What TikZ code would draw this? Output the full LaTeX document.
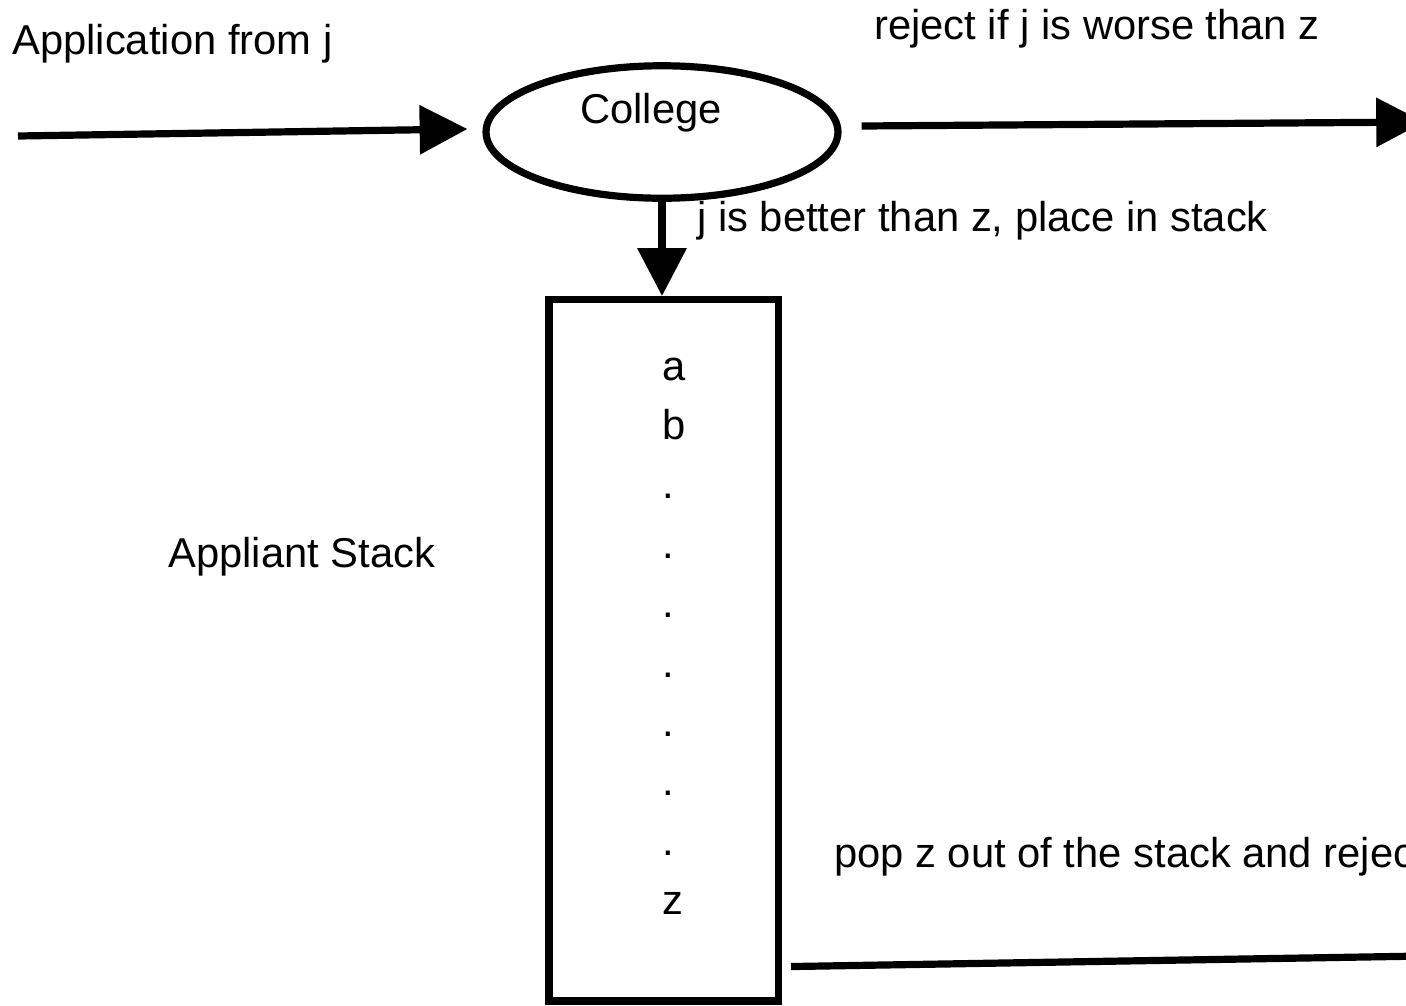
\documentclass[tikz,border=0pt]{standalone}
\usepackage{fontspec}
\setmainfont{Liberation Sans}
\usetikzlibrary{arrows.meta,shapes.geometric}

\tikzset{
	txt/.style={anchor=base west, inner sep=0pt, font=\fontsize{23.75pt}{28pt}\selectfont},
	flow/.style={line width=4.1pt, -{Triangle[length=27.2pt,width=27.2pt]}},
	plainline/.style={line width=4.1pt},
	collegebox/.style={draw, ellipse, line width=4.1pt, inner sep=0pt, minimum width=7.04cm, minimum height=2.65cm},
	stackbox/.style={draw, rectangle, line width=4.1pt, inner sep=0pt, minimum width=4.59cm, minimum height=14.03cm}
}

\begin{document}
\begin{tikzpicture}[x=0.02cm, y=-0.02cm]
	\useasboundingbox (0,0) rectangle (1406,1005);
	\clip (0,0) rectangle (1406,1005);
	% college and the stack of applicants
	\node[collegebox] (college) at (662,132) {};
	\node[txt] (collegename) at (580,123.3) {College};
	\node[stackbox] (stack) at (663.75,650.25) {};
	\node[txt] (stackname) at (168,567) {Appliant Stack};
	\node[txt] (sa) at (662,380) {a};
	\node[txt] (sb) at (662,439.4) {b};
	\node[txt] (sd1) at (662,498.8) {.};
	\node[txt] (sd2) at (662,558.2) {.};
	\node[txt] (sd3) at (662,617.6) {.};
	\node[txt] (sd4) at (662,677) {.};
	\node[txt] (sd5) at (662,736.4) {.};
	\node[txt] (sd6) at (662,795.8) {.};
	\node[txt] (sd7) at (662,855.2) {.};
	\node[txt] (sz) at (662,914.6) {z};
	% labels
	\node[txt] (applytext) at (12,54) {Application from j};
	\node[txt] (rejecttext) at (874,39) {reject if j is worse than z};
	\node[txt] (bettertext) at (697,231) {j is better than z, place in stack};
	\node[txt] (poptext) at (834,867) {pop z out of the stack and reject};
	% connectors
	\coordinate (applyin) at (18,136);
	\coordinate (rejectout) at (1424,122);
	\coordinate (popout) at (1424,956);
	\draw[flow] (applyin) -- ([shift={(-15,-3)}]college.west);
	\draw[flow] ([shift={(20,-6)}]college.east) -- (rejectout);
	\draw[flow] (college.south) -- (college.south |- stack.north);
	\draw[plainline] ([shift={(9,-38)}]stack.south east) -- (popout);
\end{tikzpicture}
\end{document}
